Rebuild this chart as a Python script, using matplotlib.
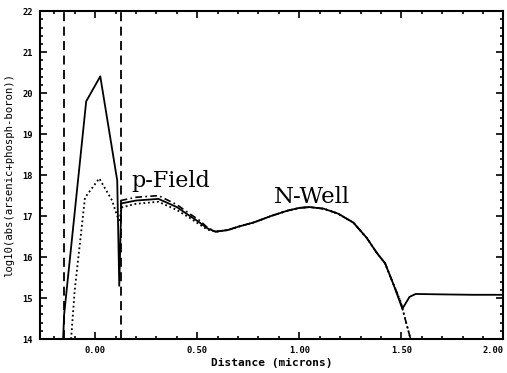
import matplotlib.pyplot as plt
from matplotlib.ticker import MultipleLocator

# common part of the profiles (n-well region), microns / log10 conc
tail_x = [0.59, 0.65, 0.70, 0.78, 0.86, 0.94, 1.00, 1.05, 1.12, 1.19, 1.265, 1.33, 1.38, 1.42, 1.46]
tail_y = [16.62, 16.66, 16.74, 16.85, 17.00, 17.13, 17.20, 17.22, 17.18, 17.06, 16.84, 16.47, 16.10, 15.85, 15.35]

# solid profile: tall peak on the left, stays flat at the right side
solid_x = [-0.157, -0.152, -0.044, 0.025, 0.108, 0.118, 0.128, 0.20, 0.31, 0.40, 0.465, 0.51, 0.55] + tail_x + [1.505, 1.54, 1.57, 1.70, 1.85, 2.00]
solid_y = [14.0, 14.6, 19.80, 20.41, 17.87, 15.30, 17.31, 17.38, 17.42, 17.22, 17.00, 16.85, 16.70] + tail_y + [14.74, 15.03, 15.10, 15.09, 15.08, 15.08]

# dotted profile: smaller peak on the left, drops off past 1.5
dot_x = [-0.118, -0.10, -0.05, 0.02, 0.083, 0.108, 0.12, 0.128, 0.20, 0.31, 0.40, 0.465, 0.51, 0.55] + tail_x + [1.495, 1.545]
dot_y = [14.0, 15.20, 17.45, 17.92, 17.38, 17.00, 16.90, 17.21, 17.30, 17.35, 17.15, 16.95, 16.80, 16.67] + tail_y + [14.93, 14.0]

# dashed profile, upper branch in the p-field
dash_x = [0.125, 0.20, 0.31, 0.40, 0.465, 0.51, 0.55] + tail_x + [1.495, 1.545]
dash_y = [17.38, 17.46, 17.50, 17.28, 17.05, 16.90, 16.72] + tail_y + [14.93, 14.0]

# p-field boundaries
bounds = [-0.152, 0.127]

xticks = [0.0, 0.5, 1.0, 1.5, 2.0]
xtick_labels = ['0.00', '0.50', '1.00', '1.50', '2.00']

fig = plt.figure(figsize=(5.07, 3.73), dpi=100)
ax = fig.add_axes([0.079, 0.091, 0.914, 0.879])

ax.plot(solid_x, solid_y, color='black', lw=1.3, ls='-')
ax.plot(dot_x, dot_y, color='black', lw=1.3, ls=(0, (1, 1.5)))
ax.plot(dash_x, dash_y, color='black', lw=1.2, ls=(0, (4, 2, 1, 2)))
for b in bounds:
    ax.axvline(b, color='black', lw=1.3, ls=(0, (5, 3)))

ax.text(0.176, 17.70, 'p-Field', family='DejaVu Serif', fontsize=16)
ax.text(0.873, 17.32, 'N-Well', family='DejaVu Serif', fontsize=16.5)

ax.set_xlim(-0.27, 2.0)
ax.set_ylim(14, 22)
ax.set_xticks(xticks, xtick_labels, family='DejaVu Sans Mono', fontweight='bold')
ax.xaxis.set_minor_locator(MultipleLocator(0.1))
ax.yaxis.set_major_locator(MultipleLocator(1))
ax.yaxis.set_minor_locator(MultipleLocator(0.2))
ax.tick_params(which='both', direction='in', top=True, right=True, width=1.2)
ax.tick_params(which='major', length=5, labelsize=6.3, pad=5)
ax.tick_params(which='minor', length=2.5)
for lab in ax.get_yticklabels():
    lab.set_family('DejaVu Sans Mono')
    lab.set_fontweight('bold')
# keep the last distance label inside the figure
ax.get_xticklabels()[-1].set_horizontalalignment('right')
for s in ax.spines.values():
    s.set_linewidth(1.5)

ax.set_xlabel('Distance (microns)', family='DejaVu Sans Mono', fontweight='bold', fontsize=8, labelpad=2)
ax.set_ylabel('log10(abs(arsenic+phosph-boron))', family='DejaVu Sans Mono', fontsize=7.7, labelpad=6)

fig.savefig('out.png', dpi=100)
